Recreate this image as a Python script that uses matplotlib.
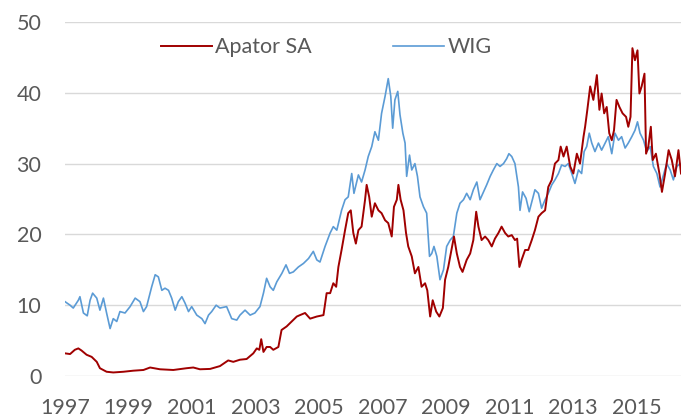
import numpy as np
import matplotlib
matplotlib.use('Agg')
import matplotlib.pyplot as plt

# decimal years and values
wig_years = [1997.00, 1997.16, 1997.26, 1997.42, 1997.47, 1997.58, 1997.70, 1997.79, 1997.87,
             1998.00, 1998.10, 1998.21, 1998.31, 1998.42, 1998.52, 1998.63, 1998.73, 1998.89,
             1999.05, 1999.21, 1999.36, 1999.47, 1999.57, 1999.73, 1999.84, 1999.94,
             2000.05, 2000.15, 2000.26, 2000.36, 2000.47, 2000.57, 2000.68, 2000.78, 2000.89, 2000.99,
             2001.15, 2001.31, 2001.41, 2001.52, 2001.62, 2001.76, 2001.88,
             2002.09, 2002.25, 2002.41, 2002.51, 2002.67, 2002.83, 2002.98,
             2003.14, 2003.25, 2003.35, 2003.46, 2003.56, 2003.67, 2003.83, 2003.96,
             2004.07, 2004.19, 2004.35, 2004.51, 2004.67, 2004.82, 2004.93,
             2005.03, 2005.19, 2005.35, 2005.45, 2005.56, 2005.71, 2005.82, 2005.92,
             2006.03, 2006.10, 2006.24, 2006.34, 2006.45, 2006.55, 2006.66, 2006.76, 2006.87, 2006.97,
             2007.08, 2007.18, 2007.26, 2007.32, 2007.39, 2007.48, 2007.55, 2007.64, 2007.71, 2007.76,
             2007.85, 2007.92, 2008.02, 2008.10, 2008.18, 2008.29, 2008.39, 2008.48, 2008.55, 2008.62,
             2008.71, 2008.81, 2008.92, 2009.02, 2009.13, 2009.23, 2009.34, 2009.44, 2009.55, 2009.65,
             2009.76, 2009.86, 2009.97, 2010.07, 2010.18, 2010.28, 2010.39, 2010.49, 2010.60, 2010.70,
             2010.81, 2010.91, 2010.98, 2011.07, 2011.17, 2011.28, 2011.33, 2011.41, 2011.52, 2011.62,
             2011.70, 2011.80, 2011.91, 2012.01, 2012.12, 2012.22, 2012.33, 2012.43, 2012.54, 2012.64,
             2012.75, 2012.85, 2012.96, 2013.06, 2013.17, 2013.27, 2013.35, 2013.43, 2013.51, 2013.59,
             2013.69, 2013.80, 2013.90, 2014.01, 2014.11, 2014.22, 2014.32, 2014.43, 2014.53, 2014.64,
             2014.74, 2014.85, 2014.95, 2015.03, 2015.11, 2015.22, 2015.32, 2015.43, 2015.53, 2015.64,
             2015.74, 2015.85, 2015.95, 2016.06, 2016.16, 2016.27, 2016.37]
wig_values = [10.5, 10.0, 9.6, 10.7, 11.2, 8.9, 8.5, 10.7, 11.7,
              11.0, 9.3, 11.0, 8.9, 6.7, 8.1, 7.7, 9.1, 8.9,
              9.8, 11.0, 10.5, 9.1, 9.8, 12.6, 14.3, 14.0,
              12.1, 12.4, 12.1, 11.0, 9.3, 10.5, 11.2, 10.3, 9.1, 9.8,
              8.6, 8.1, 7.4, 8.6, 9.1, 10.0, 9.6,
              9.8, 8.1, 7.9, 8.6, 9.3, 8.6, 8.9,
              9.8, 11.7, 13.8, 12.6, 12.1, 13.3, 14.5, 15.7,
              14.5, 14.7, 15.4, 15.9, 16.6, 17.6, 16.4,
              16.1, 18.3, 20.2, 21.1, 20.6, 23.4, 24.9, 25.3,
              28.6, 25.8, 28.4, 27.4, 29.1, 31.0, 32.4, 34.5, 33.3, 37.1,
              39.5, 42.0, 39.5, 35.0, 39.0, 40.2, 36.9, 34.3, 32.9, 28.2,
              31.2, 29.1, 30.0, 28.2, 25.3, 23.9, 23.0, 16.9, 17.3, 18.3,
              16.9, 13.6, 15.0, 18.3, 19.2, 19.7, 23.0, 24.4, 24.9, 25.8,
              24.9, 26.3, 27.4, 24.9, 26.0, 27.0, 28.2, 29.1, 30.0, 29.6,
              30.0, 30.7, 31.4, 31.0, 30.0, 26.7, 23.4, 26.0, 25.1, 23.2,
              24.6, 26.3, 25.8, 23.7, 24.9, 25.8, 27.0, 27.7, 28.6, 29.8,
              29.6, 30.0, 28.6, 27.2, 29.1, 28.6, 31.7, 32.4, 34.3, 32.9,
              31.7, 32.9, 31.9, 32.9, 33.8, 31.4, 34.3, 33.3, 33.8, 32.2,
              32.9, 33.8, 34.7, 35.9, 34.3, 33.3, 31.7, 32.4, 29.6, 28.6,
              26.7, 28.4, 30.0, 29.1, 27.7, 29.6, 30.0]

apator_years = [1997.00, 1997.16, 1997.31, 1997.42, 1997.52, 1997.68, 1997.84,
                1998.00, 1998.10, 1998.31, 1998.52, 1998.84,
                1999.15, 1999.47, 1999.68, 1999.99,
                2000.41, 2000.83, 2001.04, 2001.25, 2001.57, 2001.88,
                2002.14, 2002.30, 2002.51, 2002.72, 2002.93,
                2003.04, 2003.12, 2003.18, 2003.25, 2003.35, 2003.46, 2003.56, 2003.72, 2003.82, 2003.98,
                2004.14, 2004.30, 2004.40, 2004.56, 2004.72, 2004.93,
                2005.14, 2005.24, 2005.35, 2005.45, 2005.54, 2005.61, 2005.71, 2005.82, 2005.92,
                2006.00, 2006.08, 2006.16, 2006.24, 2006.34, 2006.45, 2006.50, 2006.58, 2006.66, 2006.76,
                2006.87, 2006.97, 2007.08, 2007.18, 2007.29, 2007.36, 2007.45, 2007.50, 2007.57, 2007.66,
                2007.74, 2007.81, 2007.92, 2008.02, 2008.13, 2008.23, 2008.34, 2008.41, 2008.50, 2008.58,
                2008.69, 2008.79, 2008.90, 2008.97, 2009.07, 2009.15, 2009.25, 2009.34, 2009.44, 2009.52,
                2009.65, 2009.76, 2009.86, 2009.95, 2010.02, 2010.12, 2010.23, 2010.33, 2010.44, 2010.54,
                2010.65, 2010.75, 2010.86, 2010.96, 2011.07, 2011.17, 2011.24, 2011.31, 2011.38, 2011.49,
                2011.59, 2011.70, 2011.80, 2011.91, 2012.01, 2012.12, 2012.22, 2012.33, 2012.43, 2012.54,
                2012.61, 2012.70, 2012.80, 2012.91, 2013.01, 2013.12, 2013.22, 2013.33, 2013.38, 2013.45,
                2013.54, 2013.64, 2013.75, 2013.83, 2013.90, 2013.98, 2014.06, 2014.14, 2014.22, 2014.29,
                2014.37, 2014.46, 2014.56, 2014.67, 2014.74, 2014.81, 2014.87, 2014.95, 2015.03, 2015.09,
                2015.16, 2015.25, 2015.30, 2015.37, 2015.45, 2015.51, 2015.61, 2015.72, 2015.80, 2015.90,
                2016.01, 2016.11, 2016.21, 2016.32, 2016.40]
apator_values = [3.2, 3.1, 3.7, 3.9, 3.6, 3.0, 2.7,
                 2.0, 1.1, 0.6, 0.5, 0.6,
                 0.75, 0.85, 1.2, 0.95,
                 0.85, 1.1, 1.2, 0.95, 1.0, 1.4,
                 2.2, 2.0, 2.3, 2.4, 3.2,
                 3.9, 3.7, 5.2, 3.4, 4.1, 4.1, 3.7, 4.1, 6.5, 7.0,
                 7.7, 8.4, 8.6, 8.9, 8.1, 8.4,
                 8.6, 11.7, 11.7, 13.1, 12.6, 15.4, 17.8, 20.6, 23.0,
                 23.4, 20.2, 18.7, 20.6, 21.1, 24.9, 27.0, 25.3, 22.5, 24.4,
                 23.4, 23.0, 22.0, 21.6, 19.7, 23.9, 24.9, 27.0, 24.9, 23.4,
                 20.2, 18.3, 16.9, 14.5, 15.4, 12.6, 13.1, 12.1, 8.4, 10.7,
                 9.1, 8.4, 9.6, 13.6, 15.4, 17.3, 19.7, 17.3, 15.4, 14.7,
                 16.4, 17.3, 19.2, 23.2, 21.1, 19.2, 19.7, 19.2, 18.3, 19.4,
                 20.2, 21.1, 20.2, 19.7, 19.9, 19.2, 19.4, 15.4, 16.4, 17.8,
                 17.8, 19.2, 20.6, 22.5, 23.0, 23.4, 26.7, 27.7, 30.0, 30.5,
                 32.4, 31.0, 32.4, 29.6, 28.6, 31.4, 30.0, 33.8, 35.2, 37.6,
                 40.9, 39.0, 42.5, 37.6, 39.9, 37.1, 38.0, 34.3, 33.3, 34.7,
                 39.0, 38.0, 37.1, 36.6, 35.2, 36.6, 46.3, 44.6, 46.0, 39.9,
                 40.9, 42.7, 31.4, 32.4, 35.2, 30.5, 31.4, 28.6, 26.0, 28.6,
                 31.9, 30.5, 28.2, 31.9, 28.6]

year_ticks = [1997, 1999, 2001, 2003, 2005, 2007, 2009, 2011, 2013, 2015]
value_ticks = [0, 10, 20, 30, 40, 50]

plt.rcParams['font.family'] = ['Lato', 'DejaVu Sans']
text_color = '#595959'

fig = plt.figure(figsize=(6.81, 4.17), dpi=100)
ax = fig.add_axes([65 / 681, 41 / 417, 616 / 681, 354 / 417])

ax.plot(apator_years, apator_values, color='#A00000', lw=1.4, label='Apator SA', zorder=3)
ax.plot(wig_years, wig_values, color='#5B9BD5', lw=1.2, label='WIG', zorder=2)

ax.set_xlim(1997, 2016.4)
ax.set_ylim(0, 50)
ax.set_xticks(year_ticks)
ax.set_xticklabels([str(y) for y in year_ticks])
ax.set_yticks(value_ticks)
ax.grid(axis='y', color='#D9D9D9', lw=1.0)
ax.set_axisbelow(True)
for s in ax.spines.values():
    s.set_visible(False)
ax.tick_params(axis='both', length=0, labelsize=15.5, colors=text_color)
ax.tick_params(axis='y', pad=17)
ax.tick_params(axis='x', pad=16)

fig.legend(loc='center', bbox_to_anchor=(0.479, 0.887), ncol=2, frameon=False,
           fontsize=15.5, handlelength=2.4, handletextpad=0.15, columnspacing=3.75,
           labelcolor=text_color)

fig.savefig('out.png', dpi=100)
